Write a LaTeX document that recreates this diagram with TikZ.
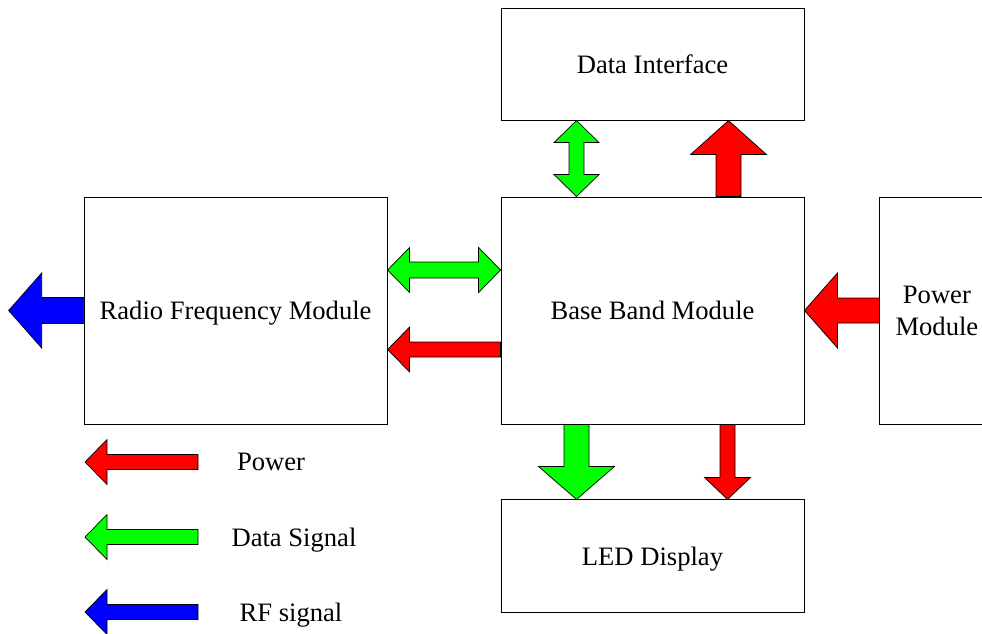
\documentclass[tikz,border=0pt]{standalone}
\usepackage{fontspec}
\setmainfont{Liberation Serif}
\usetikzlibrary{positioning,calc}

\definecolor{pwrred}{RGB}{255,0,0}
\definecolor{datgreen}{RGB}{0,255,0}
\definecolor{rfblue}{RGB}{0,0,255}

\tikzset{
  box/.style={draw, line width=0.9pt, minimum width=303pt, text depth=0pt,
    font=\fontsize{26.6}{32}\selectfont},
  flow/.style={draw=black, line width=0.7pt, line join=miter},
  power/.style={flow, fill=pwrred},
  data/.style={flow, fill=datgreen},
  rf/.style={flow, fill=rfblue},
  lbl/.style={text depth=0pt, font=\fontsize{26.6}{32}\selectfont}
}

% fat arrow: [style]{tail}{tip}{shaft half}{head half}{head length}
\newcommand{\fatarrow}[6][]{%
  \coordinate (fa-hb) at ($(#3)!#6!(#2)$);
  \filldraw[#1] ($(#2)!#4!90:(#3)$) -- ($(fa-hb)!#4!90:(#3)$)
    -- ($(fa-hb)!#5!90:(#3)$) -- (#3) -- ($(fa-hb)!#5!-90:(#3)$)
    -- ($(fa-hb)!#4!-90:(#3)$) -- ($(#2)!#4!-90:(#3)$) -- cycle;
}
% fat double arrow: [style]{end a}{end b}{shaft half}{head half}{head length}
\newcommand{\fatdarrow}[6][]{%
  \coordinate (fa-ha) at ($(#2)!#6!(#3)$);
  \coordinate (fa-hb) at ($(#3)!#6!(#2)$);
  \filldraw[#1] (#2) -- ($(fa-ha)!#5!90:(#3)$) -- ($(fa-ha)!#4!90:(#3)$)
    -- ($(fa-hb)!#4!90:(#3)$) -- ($(fa-hb)!#5!90:(#3)$) -- (#3)
    -- ($(fa-hb)!#5!-90:(#3)$) -- ($(fa-hb)!#4!-90:(#3)$)
    -- ($(fa-ha)!#4!-90:(#3)$) -- ($(fa-ha)!#5!-90:(#3)$) -- cycle;
}

\begin{document}
\begin{tikzpicture}[x=1pt, y=-1pt]
\useasboundingbox (0,0) rectangle (982,633);

% modules
\node[box, minimum height=227pt] (bb) at (652.5,310.5) {Base Band Module};
\node[box, minimum height=112pt, above=76pt of bb] (di) {Data Interface};
\node[box, minimum height=113pt, below=75pt of bb] (led) {LED Display};
\node[box, minimum height=227pt, left=113pt of bb] (rf) {Radio Frequency Module};
\node[box, minimum height=227pt, minimum width=114pt, align=center,
  right=75pt of bb] (pm) {Power\\Module};

% RF <-> base band
\coordinate (d1a) at ($(rf.east)+(0,-40.5)$);
\coordinate (d1b) at ($(bb.west)+(0,-40.5)$);
\fatdarrow[data]{d1a}{d1b}{8pt}{22.5pt}{22pt}
\coordinate (p1a) at ($(bb.west)+(0,39)$);
\coordinate (p1b) at ($(rf.east)+(0,39)$);
\fatarrow[power]{p1a}{p1b}{7.5pt}{22.5pt}{22pt}

% antenna out
\coordinate (r1b) at ($(rf.west)+(-75,0)$);
\fatarrow[rf]{rf.west}{r1b}{13pt}{37.5pt}{33pt}

% base band <-> data interface
\coordinate (d2a) at ($(bb.north)+(-76,0)$);
\coordinate (d2b) at ($(di.south)+(-76,0)$);
\fatdarrow[data]{d2a}{d2b}{7.5pt}{22.5pt}{22pt}
\coordinate (p2a) at ($(bb.north)+(76,0)$);
\coordinate (p2b) at ($(di.south)+(76,0)$);
\fatarrow[power]{p2a}{p2b}{12.5pt}{38pt}{34pt}

% power module -> base band
\fatarrow[power]{pm.west}{bb.east}{12.5pt}{37.5pt}{33pt}

% base band -> LED
\coordinate (d3a) at ($(bb.south)+(-76,0)$);
\coordinate (d3b) at ($(led.north)+(-76,0)$);
\fatarrow[data]{d3a}{d3b}{12.5pt}{38pt}{33pt}
\coordinate (p4a) at ($(bb.south)+(75,0)$);
\coordinate (p4b) at ($(led.north)+(75,0)$);
\fatarrow[power]{p4a}{p4b}{7.5pt}{23pt}{22pt}

% legend
\coordinate (lg1a) at (198,462);
\coordinate (lg1b) at (85,462);
\coordinate (lg2a) at (198,537);
\coordinate (lg2b) at (85,537);
\coordinate (lg3a) at (198,612);
\coordinate (lg3b) at (85,612);
\fatarrow[power]{lg1a}{lg1b}{7.5pt}{22.5pt}{22pt}
\fatarrow[data]{lg2a}{lg2b}{7.5pt}{22.5pt}{22pt}
\fatarrow[rf]{lg3a}{lg3b}{7.5pt}{22.5pt}{22pt}
\node[lbl] (lgpwr) at (271,462) {Power};
\node[lbl] (lgdat) at (294,537) {Data Signal};
\node[lbl] (lgrf) at (291,612) {RF signal};
\end{tikzpicture}
\end{document}
